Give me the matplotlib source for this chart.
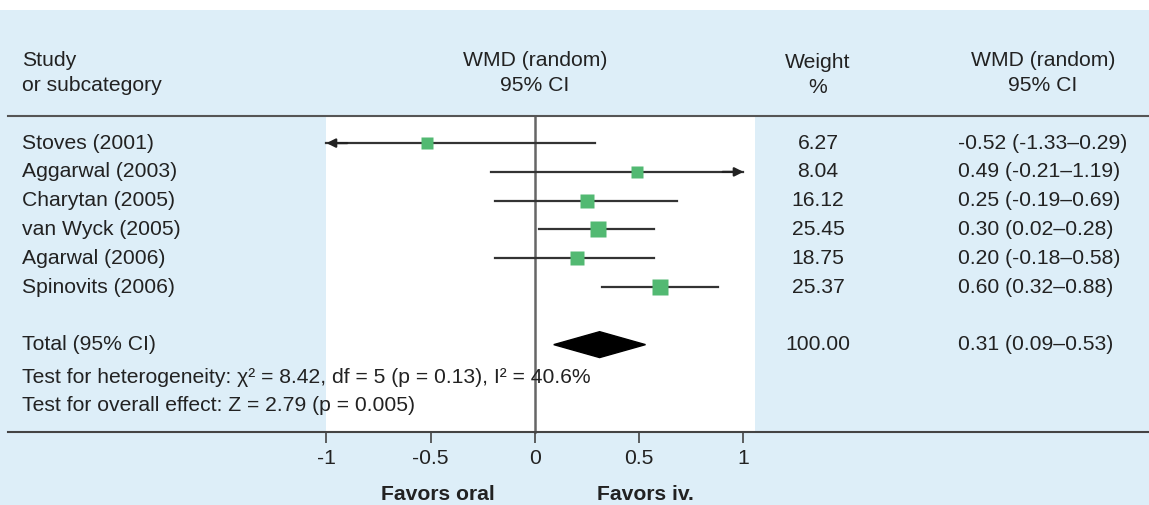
import matplotlib.pyplot as plt
from matplotlib.patches import Rectangle, Polygon
import matplotlib.transforms as mtransforms

# data
studies = ["Stoves (2001)", "Aggarwal (2003)", "Charytan (2005)",
           "van Wyck (2005)", "Agarwal (2006)", "Spinovits (2006)"]
wmd = [-0.52, 0.49, 0.25, 0.30, 0.20, 0.60]
ci_low = [-1.33, -0.21, -0.19, 0.02, -0.19, 0.32]
ci_high = [0.29, 1.19, 0.68, 0.57, 0.57, 0.88]
weights = ["6.27", "8.04", "16.12", "25.45", "18.75", "25.37"]
ci_text = ["-0.52 (-1.33\u20130.29)", "0.49 (-0.21\u20131.19)", "0.25 (-0.19\u20130.69)",
           "0.30 (0.02\u20130.28)", "0.20 (-0.18\u20130.58)", "0.60 (0.32\u20130.88)"]
weight_vals = [6.27, 8.04, 16.12, 25.45, 18.75, 25.37]

total_est = 0.31
total_low = 0.09
total_high = 0.53
total_weight = "100.00"
total_ci = "0.31 (0.09\u20130.53)"

ticks = [-1, -0.5, 0, 0.5, 1]
tick_labels = ["-1", "-0.5", "0", "0.5", "1"]

blue = "#DDEEF8"
green = "#52B972"
dark = "#333333"
txt = "#222222"

plt.rcParams["font.family"] = ["Liberation Sans", "DejaVu Sans"]
fs = 15.2

fig = plt.figure(figsize=(11.49, 5.05), dpi=100, facecolor=blue)
ax = fig.add_axes([0, 0, 1, 1], facecolor="none")
ax.set_xlim(-2.566, 2.945)
ax.set_ylim(12.57, -4.97)

# white strip at very top
fig.patches.append(Rectangle((0, 1 - 10 / 505), 1, 10 / 505, transform=fig.transFigure,
                             facecolor="white", edgecolor="none", zorder=0))

# white plotting panel
ax.add_patch(Rectangle((-1, -0.94), 2.055, 10.97, facecolor="white", edgecolor="none", zorder=0))

# header line and zero line
ax.axhline(-0.94, xmin=8 / 1149, xmax=1, color="#555555", lw=1.5)
ax.plot([0, 0], [-0.94, 10.03], color="#666666", lw=1.8, zorder=1)

rows = list(range(len(studies)))
for r, est, lo, hi, w in zip(rows, wmd, ci_low, ci_high, weight_vals):
    left = max(lo, -1)
    right = min(hi, 1)
    ax.plot([left, right], [r, r], color=dark, lw=1.6, zorder=2)
    if lo < -1:
        ax.annotate("", xy=(-1, r), xytext=(left + 0.1, r),
                    arrowprops=dict(arrowstyle="-|>", color="#222222", lw=1.6,
                                    mutation_scale=13, shrinkA=0, shrinkB=0))
    if hi > 1:
        ax.annotate("", xy=(1, r), xytext=(right - 0.1, r),
                    arrowprops=dict(arrowstyle="-|>", color="#222222", lw=1.6,
                                    mutation_scale=13, shrinkA=0, shrinkB=0))
    side = (10 + 0.2 * w) * 0.72
    ax.plot(est, r, marker="s", ms=side, color=green, mec="none", zorder=3)

# total diamond
total_row = 7
ax.add_patch(Polygon([[total_low, total_row], [total_est, total_row - 0.45],
                      [total_high, total_row], [total_est, total_row + 0.45]],
                     closed=True, facecolor="black", edgecolor="black", zorder=3))

# columns
col = mtransforms.blended_transform_factory(fig.transFigure, ax.transData)
x_study = 22 / 1149
x_weight = 818 / 1149
x_ci = 958 / 1149
x_cihead = 1043 / 1149

ax.text(x_study, -2.88, "Study", transform=col, fontsize=fs, va="center", color=txt)
ax.text(x_study, -2.01, "or subcategory", transform=col, fontsize=fs, va="center", color=txt)
ax.text(0, -2.88, "WMD (random)", fontsize=fs, va="center", ha="center", color=txt)
ax.text(0, -2.01, "95% CI", fontsize=fs, va="center", ha="center", color=txt)
ax.text(x_weight, -2.8, "Weight", transform=col, fontsize=fs, va="center", ha="center", color=txt)
ax.text(x_weight, -1.93, "%", transform=col, fontsize=fs, va="center", ha="center", color=txt)
ax.text(x_cihead, -2.88, "WMD (random)", transform=col, fontsize=fs, va="center", ha="center", color=txt)
ax.text(x_cihead, -2.01, "95% CI", transform=col, fontsize=fs, va="center", ha="center", color=txt)

for r, name, wt, ct in zip(rows, studies, weights, ci_text):
    ax.text(x_study, r, name, transform=col, fontsize=fs, va="center", color=txt)
    ax.text(x_weight, r, wt, transform=col, fontsize=fs, va="center", ha="center", color=txt)
    ax.text(x_ci, r, ct, transform=col, fontsize=fs, va="center", color=txt)

ax.text(x_study, total_row, "Total (95% CI)", transform=col, fontsize=fs, va="center", color=txt)
ax.text(x_weight, total_row, total_weight, transform=col, fontsize=fs, va="center", ha="center", color=txt)
ax.text(x_ci, total_row, total_ci, transform=col, fontsize=fs, va="center", color=txt)

ax.text(x_study, 8.15, "Test for heterogeneity: \u03c7\u00b2 = 8.42, df = 5 (p = 0.13), I\u00b2 = 40.6%",
        transform=col, fontsize=fs, va="center", color=txt, zorder=4)
ax.text(x_study, 9.1, "Test for overall effect: Z = 2.79 (p = 0.005)",
        transform=col, fontsize=fs, va="center", color=txt, zorder=4)

# x axis
for s in ["top", "left", "right"]:
    ax.spines[s].set_visible(False)
ax.spines["bottom"].set_position(("data", 10.03))
ax.spines["bottom"].set_bounds(-2.53, 2.945)
ax.spines["bottom"].set_color("#444444")
ax.spines["bottom"].set_linewidth(1.5)
ax.set_xticks(ticks)
ax.set_xticklabels(tick_labels, fontsize=fs, color=txt)
ax.tick_params(axis="x", direction="out", length=8, width=1.2, color="#444444", pad=4)
ax.set_yticks([])

ax.text(-0.465, 12.2, "Favors oral", fontsize=fs, fontweight="bold", ha="center", va="center", color=txt)
ax.text(0.53, 12.2, "Favors iv.", fontsize=fs, fontweight="bold", ha="center", va="center", color=txt)

fig.savefig("out.png", dpi=100, facecolor=blue)
